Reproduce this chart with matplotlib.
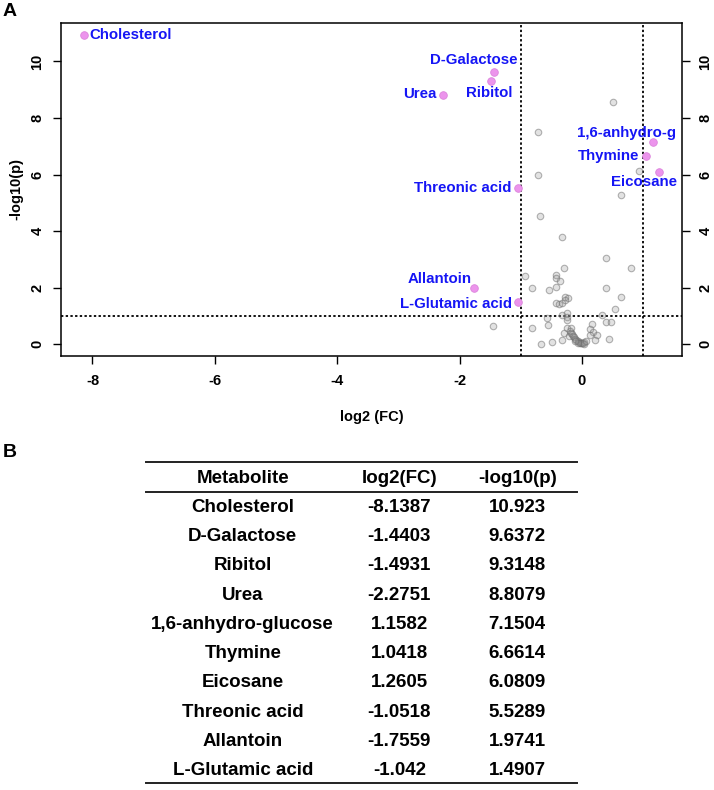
import matplotlib
matplotlib.use("Agg")
import matplotlib.pyplot as plt
from matplotlib.lines import Line2D

plt.rcParams['font.family'] = ['Liberation Sans', 'DejaVu Sans']
plt.rcParams['font.weight'] = 'bold'
plt.rcParams['axes.unicode_minus'] = False

# significant metabolites (also the table rows)
names = ["Cholesterol", "D-Galactose", "Ribitol", "Urea", "1,6-anhydro-glucose",
         "Thymine", "Eicosane", "Threonic acid", "Allantoin", "L-Glutamic acid"]
short_names = ["Cholesterol", "D-Galactose", "Ribitol", "Urea", "1,6-anhydro-g",
               "Thymine", "Eicosane", "Threonic acid", "Allantoin", "L-Glutamic acid"]
log2fc = [-8.1387, -1.4403, -1.4931, -2.2751, 1.1582, 1.0418, 1.2605, -1.0518, -1.7559, -1.042]
neglog10p = [10.923, 9.6372, 9.3148, 8.8079, 7.1504, 6.6614, 6.0809, 5.5289, 1.9741, 1.4907]

# other metabolites (grey points)
grey_x = [0.51, -0.71, -0.72, 0.93, 0.64, -0.69, -0.33, 0.39, 0.81, -0.30,
          -0.93, -0.42, -0.43, -0.36, -0.82, -0.53, -0.42, 0.40, 0.64, -0.28,
          -0.22, -0.42, -0.38, -0.32, -0.27, 0.54, -0.33, -0.25, -0.25, 0.33,
          -0.57, -0.25, 0.39, 0.47, -1.46, -0.81, -0.56, -0.25, -0.17, 0.17,
          0.14, 0.18, 0.13, 0.24, 0.22, 0.44, -0.29, -0.21, -0.33, -0.49,
          -0.67, -0.19, -0.17, -0.16, -0.14, -0.13, -0.11, -0.09, -0.07, -0.05,
          -0.03, -0.01, 0.00, 0.02, 0.04, -0.06, 0.03, 0.06, -0.12]
grey_y = [8.58, 7.49, 5.98, 6.12, 5.27, 4.53, 3.80, 3.05, 2.71, 2.69,
          2.42, 2.44, 2.34, 2.24, 2.00, 1.93, 2.02, 1.98, 1.66, 1.67,
          1.65, 1.46, 1.42, 1.47, 1.56, 1.24, 1.05, 1.11, 0.98, 1.03,
          0.91, 0.85, 0.80, 0.80, 0.64, 0.57, 0.69, 0.59, 0.59, 0.72,
          0.53, 0.45, 0.32, 0.32, 0.14, 0.19, 0.38, 0.28, 0.16, 0.08,
          0.02, 0.47, 0.40, 0.35, 0.30, 0.25, 0.20, 0.16, 0.12, 0.09,
          0.06, 0.04, 0.03, 0.05, 0.08, 0.03, 0.02, 0.12, 0.10]

fc_cut = 1
p_cut = 1

W, H = 714, 790
fig = plt.figure(figsize=(W / 100, H / 100), dpi=100)

# panel A: volcano plot
ax = fig.add_axes([61 / W, 1 - 356 / H, 621 / W, 333 / H])
ax.scatter(grey_x, grey_y, s=22, facecolor=(0.6, 0.6, 0.6, 0.28),
           edgecolor=(0.42, 0.42, 0.42, 0.5), linewidth=0.8, zorder=3)
ax.scatter(log2fc, neglog10p, s=30, facecolor='#ec94ec', edgecolor='#dc84dc',
           linewidth=0.6, zorder=4)
ax.margins(0.04)

ax.axvline(-fc_cut, color='black', linestyle=(0, (1.3, 1.3)), linewidth=1.3, zorder=2)
ax.axvline(fc_cut, color='black', linestyle=(0, (1.3, 1.3)), linewidth=1.3, zorder=2)
ax.axhline(p_cut, color='black', linestyle=(0, (1.3, 1.3)), linewidth=1.3, zorder=2)

# label offsets in pixels (dx, dy, alignment)
offsets = [(5, 0, 'left'), (24, 12, 'right'), (-1, -12.5, 'center'), (-6, 1, 'right'),
           (23, 9, 'right'), (-6.5, 0, 'right'), (18, -9.5, 'right'), (-6.5, 0, 'right'),
           (-2.5, 9, 'right'), (-6.5, -1.5, 'right')]
for lab, x, y, (dx, dy, ha) in zip(short_names, log2fc, neglog10p, offsets):
    ax.annotate(lab, (x, y), xytext=(dx * 0.72, dy * 0.72), textcoords='offset points',
                ha=ha, va='center', color='#1515f5', fontsize=10.8, fontweight='bold',
                zorder=5)

ax.set_xticks([-8, -6, -4, -2, 0])
ax.set_yticks([0, 2, 4, 6, 8, 10])
ax.tick_params(axis='both', length=5.8, width=1.0, labelsize=10.5, direction='out')
ax.tick_params(axis='x', pad=7)
ax.tick_params(axis='y', right=True, labelright=True, pad=6)
for lbl in ax.get_yticklabels(which='both'):
    lbl.set_rotation(90)
    lbl.set_va('center')
for spine in ax.spines.values():
    spine.set_linewidth(1.1)

ax.set_xlabel("log2 (FC)", fontsize=10.5, fontweight='bold', labelpad=16)
ax.set_ylabel("-log10(p)", fontsize=10.5, fontweight='bold', labelpad=5)

fig.text(3 / W, 1 - 12 / H, "A", fontsize=14, fontweight='bold', va='center', ha='left')
fig.text(3 / W, 1 - 452 / H, "B", fontsize=14, fontweight='bold', va='center', ha='left')

# panel B: table
col_x = [242.7, 399.3, 517.3]
headers = ["Metabolite", "log2(FC)", "-log10(p)"]
header_y = 478.3
row_y0 = 507.3
row_h = 29.27
tsize = 13.5

for cx, h in zip(col_x, headers):
    fig.text(cx / W, 1 - header_y / H, h, fontsize=tsize, fontweight='bold',
             ha='center', va='center')
for i, (n, fc, p) in enumerate(zip(names, log2fc, neglog10p)):
    ry = row_y0 + i * row_h
    for cx, t in zip(col_x, [n, str(fc), str(p)]):
        fig.text(cx / W, 1 - ry / H, t, fontsize=tsize, fontweight='bold',
                 ha='center', va='center')

for ly in [462.3, 491.7, 783.3]:
    fig.add_artist(Line2D([145.7 / W, 576.7 / W], [1 - ly / H, 1 - ly / H],
                          color='#222222', linewidth=1.4))

fig.savefig("out.png", dpi=100)
